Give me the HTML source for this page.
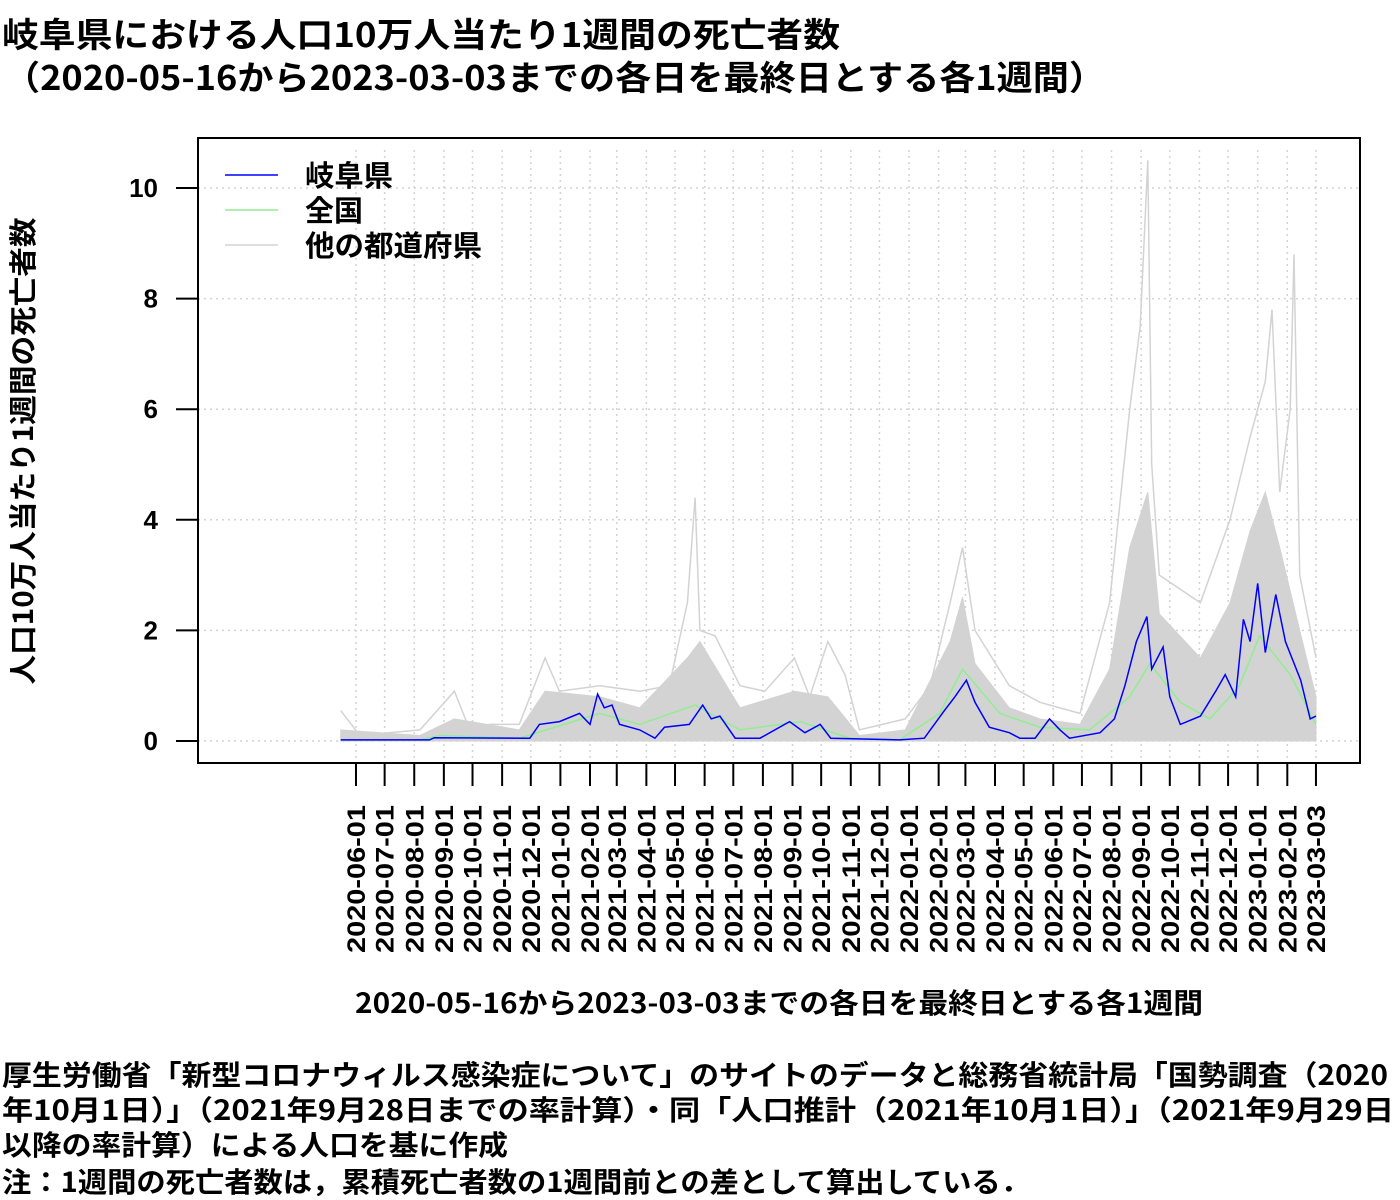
<!DOCTYPE html>
<html><head><meta charset="utf-8"><style>
body{margin:0;background:#fff;}
svg{display:block;font-family:"Noto Sans CJK JP","Liberation Sans",sans-serif;font-weight:bold;}
.lat{font-family:"Liberation Sans",sans-serif;}
</style></head><body>
<svg id="chart" width="1400" height="1200" viewBox="0 0 1400 1200" xmlns="http://www.w3.org/2000/svg">
<text x="2" y="47" font-size="34" textLength="838" lengthAdjust="spacingAndGlyphs">岐阜県における人口10万人当たり1週間の死亡者数</text>
<text x="4" y="90" font-size="34" textLength="1101" lengthAdjust="spacingAndGlyphs">（2020-05-16から2023-03-03までの各日を最終日とする各1週間）</text>
<g id="grid"></g>
<g id="marks"></g>
<rect x="198" y="138" width="1162" height="625" fill="none" stroke="#000" stroke-width="2"/>
<g id="axes"></g>
<text transform="translate(33,451) rotate(-90)" text-anchor="middle" font-size="28" textLength="467" lengthAdjust="spacingAndGlyphs">人口10万人当たり1週間の死亡者数</text>
<text x="355" y="1013" font-size="28" textLength="848" lengthAdjust="spacingAndGlyphs">2020-05-16から2023-03-03までの各日を最終日とする各1週間</text>
<g font-size="29">
<line x1="225" y1="175" x2="278" y2="175" stroke="#0000ff" stroke-width="1.5"/>
<text x="305" y="186" textLength="88" lengthAdjust="spacingAndGlyphs">岐阜県</text>
<line x1="225" y1="210" x2="278" y2="210" stroke="#90ee90" stroke-width="1.5"/>
<text x="305" y="221" textLength="58" lengthAdjust="spacingAndGlyphs">全国</text>
<line x1="225" y1="245" x2="278" y2="245" stroke="#d3d3d3" stroke-width="1.5"/>
<text x="305" y="256" textLength="177" lengthAdjust="spacingAndGlyphs">他の都道府県</text>
</g>
<g font-size="28">
<text x="2" y="1085" textLength="1386" lengthAdjust="spacingAndGlyphs">厚生労働省「新型コロナウィルス感染症について」のサイトのデータと総務省統計局「国勢調査（2020</text>
<text x="2" y="1120" textLength="1392" lengthAdjust="spacingAndGlyphs">年10月1日）」（2021年9月28日までの率計算）・同「人口推計（2021年10月1日）」（2021年9月29日</text>
<text x="2" y="1155" textLength="506" lengthAdjust="spacingAndGlyphs">以降の率計算）による人口を基に作成</text>
<text x="2" y="1192" textLength="1028" lengthAdjust="spacingAndGlyphs">注：1週間の死亡者数は，累積死亡者数の1週間前との差として算出している．</text>
</g>
</svg>
<script>
// days since 2020-05-16
const gifuDays=[0,93,98,198,208,229,250,261,269,276,284,292,313,329,339,365,379,388,397,413,439,470,486,502,513,585,611,632,643,655,664,679,700,711,727,742,753,763,795,810,821,833,844,849,861,868,879,900,916,926,937,945,952,960,968,979,989,1005,1015,1021];
const gifuVals=[0.02,0.02,0.06,0.05,0.3,0.35,0.5,0.3,0.85,0.6,0.65,0.3,0.2,0.05,0.25,0.3,0.65,0.4,0.45,0.05,0.05,0.35,0.15,0.3,0.05,0.02,0.05,0.55,0.8,1.1,0.7,0.25,0.15,0.05,0.05,0.4,0.2,0.05,0.15,0.4,1.0,1.8,2.25,1.3,1.7,0.8,0.3,0.45,0.9,1.2,0.8,2.2,1.8,2.85,1.6,2.65,1.8,1.1,0.4,0.45];
const natDays=[0,83,104,187,271,313,371,418,481,533,585,627,651,690,732,784,826,847,879,910,941,962,994,1021];
const natVals=[0.02,0.02,0.1,0.05,0.5,0.3,0.65,0.2,0.35,0.05,0.02,0.5,1.3,0.5,0.25,0.2,0.8,1.4,0.7,0.4,1.0,1.9,1.2,0.3];
const otherMaxDays=[0,20,83,119,135,156,187,214,229,271,313,344,363,371,376,392,418,444,475,491,510,528,543,591,617,638,651,664,700,732,774,805,826,837,845,849,857,900,931,952,968,975,983,994,998,1004,1021];
const otherMaxVals=[0.55,0.1,0.2,0.9,0.2,0.3,0.3,1.5,0.9,1.0,0.9,1.0,2.5,4.4,2.0,1.9,1.0,0.9,1.5,0.8,1.8,1.2,0.2,0.4,1.0,2.5,3.5,2.0,1.0,0.7,0.5,2.5,6.0,7.5,10.5,5.0,3.0,2.5,4.0,5.5,6.5,7.8,4.5,6.0,8.8,3.0,1.5];
const otherDenseDays=[0,83,119,187,214,271,313,363,376,418,475,510,543,591,638,651,664,700,732,774,805,826,845,857,900,931,952,968,983,1004,1021];
const otherDenseVals=[0.2,0.1,0.4,0.2,0.9,0.8,0.6,1.5,1.8,0.6,0.9,0.8,0.1,0.2,1.8,2.6,1.4,0.6,0.4,0.3,1.3,3.5,4.5,2.3,1.5,2.5,3.8,4.5,3.5,2.0,0.8];
const yTicks=[0,2,4,6,8,10];

const NS="http://www.w3.org/2000/svg";
const start=Date.UTC(2020,4,16);
const X=d=>340.7+d*0.9552;
const Y=v=>741-v*55.3;
function mk(tag,attrs,parent){const e=document.createElementNS(NS,tag);for(const k in attrs)e.setAttribute(k,attrs[k]);parent.appendChild(e);return e;}
const grid=document.getElementById('grid'),marks=document.getElementById('marks'),axes=document.getElementById('axes');
const tickDates=[];
for(let y=2020,m=5;;){const t=Date.UTC(y,m,1);if(t>Date.UTC(2023,1,1))break;tickDates.push(t);m++;if(m>11){m=0;y++;}}
tickDates.push(Date.UTC(2023,2,3));
tickDates.forEach(t=>{
  const d=(t-start)/86400000,x=X(d);
  const g=mk('line',{x1:x,x2:x,y1:150,y2:763,stroke:'#d3d3d3','stroke-dasharray':'2,4','stroke-width':1.5},grid);
  
  
  const tk=mk('line',{x1:x,x2:x,y1:763,y2:786,stroke:'#000','stroke-width':2},axes);
  
  
  const dt=new Date(t);
  const lab=dt.getUTCFullYear()+'-'+String(dt.getUTCMonth()+1).padStart(2,'0')+'-'+String(dt.getUTCDate()).padStart(2,'0');
  const tx=mk('text',{transform:`translate(${x+9},805) rotate(-90)`,'text-anchor':'end','font-size':25,'class':'lat',textLength:148,lengthAdjust:'spacingAndGlyphs'},axes);
  
  
  tx.textContent=lab;
});
mk('line',{x1:X(16),x2:X(1021),y1:763,y2:763,stroke:'#000','stroke-width':2},axes);
yTicks.forEach(v=>{
  const y=Y(v);
  const g=mk('line',{x1:198,x2:1360,y1:y,y2:y,stroke:'#d3d3d3','stroke-dasharray':'2,4','stroke-width':1.5},grid);
  
  
  const tk=mk('line',{x1:176,x2:198,y1:y,y2:y,stroke:'#000','stroke-width':2},axes);
  
  
  const tx=mk('text',{x:158,y:y+9,'text-anchor':'end','font-size':26,'class':'lat'},axes);
  
  
  tx.textContent=v;
});
function pts(ds,vs){return ds.map((d,i)=>X(d).toFixed(1)+','+Y(vs[i]).toFixed(1)).join(' ');}
const dense=mk('polygon',{points:X(0)+','+Y(0)+' '+pts(otherDenseDays,otherDenseVals)+' '+X(1021)+','+Y(0),fill:'#d3d3d3',stroke:'#d3d3d3'},marks);


const mx=mk('polyline',{points:pts(otherMaxDays,otherMaxVals),fill:'none',stroke:'#d3d3d3','stroke-width':1.5},marks);


const nat=mk('polyline',{points:pts(natDays,natVals),fill:'none',stroke:'#90ee90','stroke-width':1.5},marks);


const gifu=mk('polyline',{points:pts(gifuDays,gifuVals),fill:'none',stroke:'#0000ff','stroke-width':1.5},marks);


</script>
</body></html>
